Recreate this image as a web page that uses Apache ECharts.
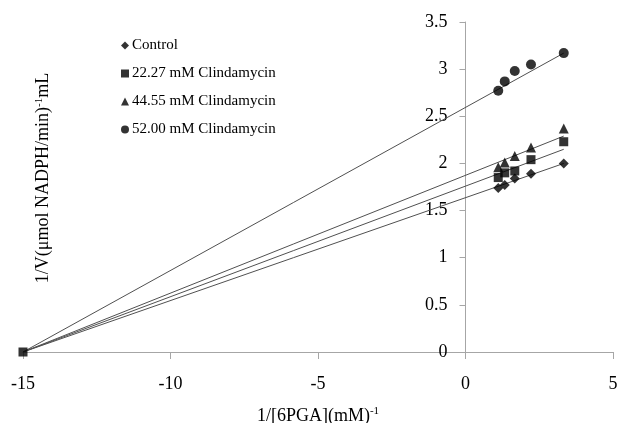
<!DOCTYPE html>
<html>
<head>
<meta charset="utf-8">
<script src="https://cdn.jsdelivr.net/npm/echarts@6/dist/echarts.min.js"></script>
<style>
  html, body { margin: 0; padding: 0; background: #fff; }
  #chart { width: 619px; height: 423px; }
</style>
</head>
<body>
<div id="chart"></div>
<script>
// 1/[6PGA] values shared by every series
var xValues = [1.11, 1.33, 1.67, 2.22, 3.33];

var seriesNames = ['Control', '22.27 mM Clindamycin', '44.55 mM Clindamycin', '52.00 mM Clindamycin'];
var seriesSymbols = ['diamond', 'rect', 'triangle', 'circle'];
var seriesSizes = [10, 9, 10, 10];

var control = [1.74, 1.77, 1.84, 1.89, 2.00];
var clinda22 = [1.85, 1.90, 1.92, 2.04, 2.23];
var clinda44 = [1.96, 2.01, 2.08, 2.17, 2.37];
var clinda52 = [2.77, 2.87, 2.98, 3.05, 3.17];

// common intercept point on the x axis
var interceptPoint = [-15, 0];

// trendline ends (start at the intercept, end at the last x value)
var trendEndX = 3.33;
var trendEndY = [2.00, 2.15, 2.29, 3.17];

var xTicks = [-15, -10, -5, 0, 5];
var yTicks = [0, 0.5, 1, 1.5, 2, 2.5, 3, 3.5];

var allValues = [control, clinda22, clinda44, clinda52];

var font = "'Liberation Serif', 'Times New Roman', serif";
var axisColor = '#a6a6a6';

var gridLeft = 23, gridRight = 6, chartWidth = 619;
// shift the y axis so it sits on x = 0
var plotW = chartWidth - gridLeft - gridRight;
var yAxisOffset = -plotW * (0 - xTicks[0]) / (xTicks[xTicks.length - 1] - xTicks[0]);

var series = [];
// trend lines first so the markers sit on top
trendEndY.forEach(function (y, i) {
  series.push({
    type: 'line',
    name: seriesNames[i] + ' trend',
    data: [interceptPoint, [trendEndX, y]],
    showSymbol: false,
    symbol: 'none',
    silent: true,
    lineStyle: { color: '#505050', width: 1 },
    z: 2
  });
});
allValues.forEach(function (vals, i) {
  var pts = xValues.map(function (x, j) { return [x, vals[j]]; });
  if (i === 1) pts.unshift(interceptPoint);
  series.push({
    type: 'scatter',
    name: seriesNames[i],
    symbol: seriesSymbols[i],
    symbolSize: seriesSizes[i],
    itemStyle: { color: '#000' },
    data: pts,
    z: 5
  });
});

var chart = echarts.init(document.getElementById('chart'));
chart.setOption({
  animation: false,
  backgroundColor: '#fff',
  grid: { left: gridLeft, right: gridRight, top: 22, bottom: 71, containLabel: false, outerBoundsMode: 'none' },
  legend: {
    orient: 'vertical',
    left: 116,
    top: 33,
    itemWidth: 8,
    itemHeight: 8,
    itemGap: 13,
    textStyle: { fontFamily: font, fontSize: 15, color: '#000', padding: [0, 0, 0, -2] },
    data: seriesNames.map(function (n, i) { return { name: n, icon: seriesSymbols[i] }; })
  },
  xAxis: {
    type: 'value',
    min: xTicks[0],
    max: xTicks[xTicks.length - 1],
    interval: 5,
    splitLine: { show: false },
    axisLine: { onZero: false, lineStyle: { color: axisColor, width: 1 } },
    axisTick: { show: true, length: 7, lineStyle: { color: axisColor } },
    axisLabel: { fontFamily: font, fontSize: 18, color: '#000', margin: 23 },
    name: '1/[6PGA](mM){sup|-1}',
    nameLocation: 'middle',
    nameGap: 54,
    nameTextStyle: {
      fontFamily: font, fontSize: 18, color: '#000', lineHeight: 20,
      rich: { sup: { fontFamily: font, fontSize: 11, verticalAlign: 'top', lineHeight: 12, color: '#000' } }
    }
  },
  yAxis: {
    type: 'value',
    position: 'left',
    offset: yAxisOffset,
    min: yTicks[0],
    max: yTicks[yTicks.length - 1],
    interval: 0.5,
    splitLine: { show: false },
    axisLine: { show: true, onZero: false, lineStyle: { color: axisColor, width: 1 } },
    axisTick: { show: true, length: 6, lineStyle: { color: axisColor } },
    axisLabel: { fontFamily: font, fontSize: 18, color: '#000', margin: 18 }
  },
  graphic: [{
    type: 'text',
    x: 43,
    y: 178,
    rotation: Math.PI / 2,
    style: {
      text: '1/V(μmol NADPH/min){sup|-1}mL',
      fontFamily: font,
      fontSize: 18,
      fill: '#000',
      align: 'center',
      verticalAlign: 'middle',
      rich: { sup: { fontFamily: font, fontSize: 11, verticalAlign: 'top', lineHeight: 12, fill: '#000' } }
    }
  }],
  series: series
});
</script>
</body>
</html>
